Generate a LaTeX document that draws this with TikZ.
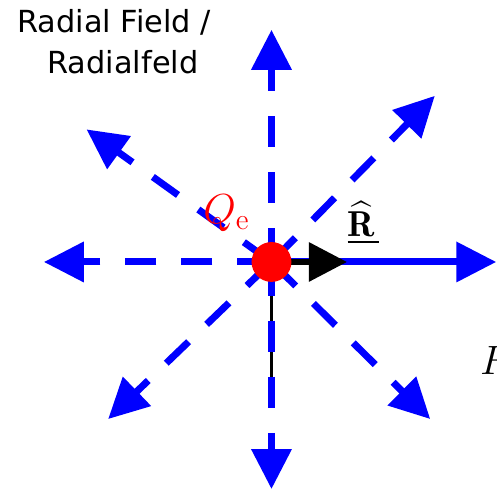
\RequirePackage{fix-cm}
\documentclass[tikz,border=0pt]{standalone}
\usepackage{fontspec}
\usepackage{amsmath, amssymb}
\newfontfamily\titlefont{DejaVu Sans}
\definecolor{fieldblue}{RGB}{0, 0, 255}
\definecolor{chargered}{RGB}{255, 0, 0}
\usetikzlibrary{arrows.meta, positioning, calc}

\tikzset{
	fieldline/.style={draw=fieldblue, line width=3.5pt, -{Triangle[length=20pt,width=19.5pt]}},
	fielddash/.style={fieldline, dash pattern=on 15.5pt off 12.5pt, dash phase=26.5pt},
	unitvec/.style={draw=black, line width=3pt, -{Triangle[length=19pt,width=19pt]}},
	charge/.style={circle, fill=chargered, minimum size=0.70cm, inner sep=0pt},
	title/.style={font=\titlefont\fontsize{15.2}{18}\selectfont, anchor=base, inner sep=0pt},
	label/.style={anchor=base west, inner sep=0pt}
}

\begin{document}
\begin{tikzpicture}
	\useasboundingbox (-4.771,-4.007) rectangle (3.963,4.604);
	
	% centre and tips of the field lines
	\coordinate (O) at (0,0);
	\coordinate (tipN) at (0,4.08);
	\coordinate (tipS) at (0,-3.99);
	\coordinate (tipW) at (-4.00,0);
	\coordinate (tipE) at (3.95,0);
	\coordinate (tipNW) at (-3.25,2.33);
	\coordinate (tipNE) at (2.87,2.92);
	\coordinate (tipSW) at (-2.87,-2.76);
	\coordinate (tipSE) at (2.79,-2.76);
	\coordinate (stem) at (0,-2.04);
	\coordinate (tipR) at (1.327,0);
	
	\draw[black, line width=1.5pt] (O) -- (stem);
	
	\foreach \t in {N,S,W,NW,NE,SW,SE}
	\draw[fielddash] (O) -- (tip\t);
	\draw[fieldline] (O) -- (tipE);
	
	\draw[unitvec] (O) -- (tipR);
	\node[charge] (Q) at (O) {};
	
	\node[title] (title1) at (-2.768,4.024) {Radial Field /};
	\node[title] (title2) at (-2.61,3.321) {Radialfeld};
	
	\node[label, text=chargered, font=\fontsize{21}{25}\selectfont] (qlabel) at (-1.204,0.685) {$Q_{\mathrm{e}}$};
	\node[label, font=\fontsize{18}{21}\selectfont] (rlabel) at (1.33,0.445) {$\underline{\widehat{\mathbf{R}}\mkern2mu}$};
	\node[label, font=\fontsize{20.5}{24}\selectfont] (flabel) at (3.66,-1.986) {$F$};
	
\end{tikzpicture}
\end{document}
